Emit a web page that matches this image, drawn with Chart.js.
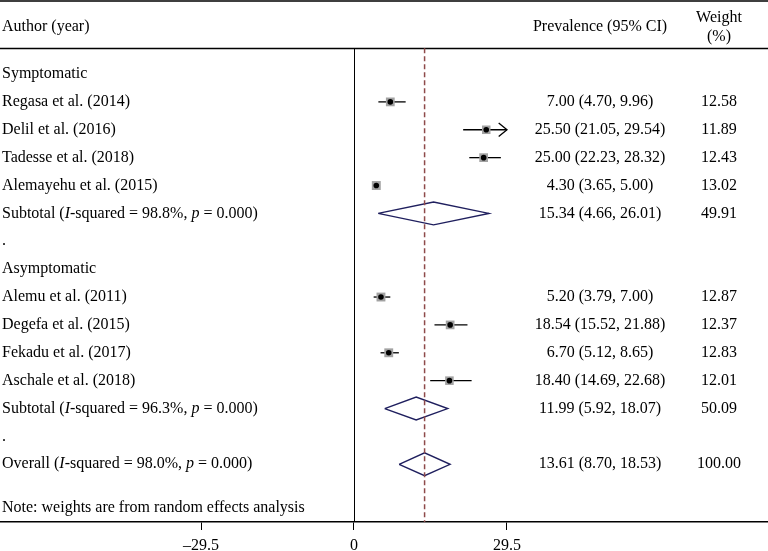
<!DOCTYPE html>
<html>
<head>
<meta charset="utf-8">
<script src="https://cdn.jsdelivr.net/npm/chart.js@4"></script>
<style>html,body{margin:0;padding:0;background:#fff}</style>
</head>
<body>
<canvas id="forest" width="768" height="551"></canvas>
<script>
// rows of the forest plot, top to bottom
const rowLabels = [
  'Symptomatic',
  'Regasa et al. (2014)',
  'Delil et al. (2016)',
  'Tadesse et al. (2018)',
  'Alemayehu et al. (2015)',
  'Subtotal (*I*-squared = 98.8%, *p* = 0.000)',
  '.',
  'Asymptomatic',
  'Alemu et al. (2011)',
  'Degefa et al. (2015)',
  'Fekadu et al. (2017)',
  'Aschale et al. (2018)',
  'Subtotal (*I*-squared = 96.3%, *p* = 0.000)',
  '.',
  'Overall (*I*-squared = 98.0%, *p* = 0.000)'
];
const rowKinds = ['group', 'study', 'study', 'study', 'study', 'pooled', 'gap',
  'group', 'study', 'study', 'study', 'study', 'pooled', 'gap', 'pooled'];
const estimates = [null, 7.00, 25.50, 25.00, 4.30, 15.34, null, null, 5.20, 18.54, 6.70, 18.40, 11.99, null, 13.61];
const lower = [null, 4.70, 21.05, 22.23, 3.65, 4.66, null, null, 3.79, 15.52, 5.12, 14.69, 5.92, null, 8.70];
const upper = [null, 9.96, 29.54, 28.32, 5.00, 26.01, null, null, 7.00, 21.88, 8.65, 22.68, 18.07, null, 18.53];
const weights = [null, 12.58, 11.89, 12.43, 13.02, 49.91, null, null, 12.87, 12.37, 12.83, 12.01, 50.09, null, 100.00];
const tickValues = [-29.5, 0, 29.5];
const axisMax = 29.5;
const overallEstimate = 13.61;
const noteText = 'Note: weights are from random effects analysis';

const FONT = '"Liberation Serif", "Times New Roman", serif';
const headerRow = -1.69;    // y value of the column headings
const headerRule = -0.92;   // rule under the headings
const noteRow = 15.56;
const yMin = -2.655, yMax = 16.07;

// build datasets
const datasets = [];
rowKinds.forEach((kind, i) => {
  if (kind === 'study') {
    const hi = Math.min(upper[i], axisMax);
    datasets.push({
      data: [{x: lower[i], y: i}, {x: hi, y: i}],
      showLine: true, borderColor: '#000', borderWidth: 1.3, pointRadius: 0, order: 3
    });
    if (upper[i] > axisMax) {
      datasets.push({
        data: [{x: axisMax - 1.6, y: i - 0.24}, {x: axisMax, y: i}, {x: axisMax - 1.6, y: i + 0.24}],
        showLine: true, borderColor: '#000', borderWidth: 1.3, pointRadius: 0, order: 3
      });
    }
  } else if (kind === 'pooled') {
    datasets.push({
      data: [
        {x: lower[i], y: i}, {x: estimates[i], y: i - 0.41}, {x: upper[i], y: i},
        {x: estimates[i], y: i + 0.41}, {x: lower[i], y: i}
      ],
      showLine: true, borderColor: '#1f1f5e', borderWidth: 1.4, pointRadius: 0, order: 4
    });
  }
});
const studyRows = rowKinds.map((k, i) => k === 'study' ? i : -1).filter(i => i >= 0);
datasets.push({
  data: studyRows.map(i => ({x: estimates[i], y: i})),
  pointStyle: 'rect',
  pointRadius: studyRows.map(i => Math.sqrt(weights[i]) * 1.75),
  backgroundColor: '#a2a2a2', borderWidth: 0, order: 1
});
datasets.push({
  data: studyRows.map(i => ({x: estimates[i], y: i})),
  pointStyle: 'circle', pointRadius: 2.8,
  backgroundColor: '#000', borderWidth: 0, order: 0
});
datasets.push({
  data: [{x: overallEstimate, y: headerRule}, {x: overallEstimate, y: yMax}],
  showLine: true, borderColor: '#8e4a4a', borderWidth: 1.5, borderDash: [5, 3],
  pointRadius: 0, order: 2
});

function drawRich(ctx, text, x, y) {
  text.split('*').forEach((part, k) => {
    ctx.font = (k % 2 ? 'italic ' : '') + '16px ' + FONT;
    ctx.fillText(part, x, y);
    x += ctx.measureText(part).width;
  });
}

const tablePlugin = {
  id: 'table',
  beforeDatasetsDraw(chart) {
    const {ctx, scales: {x, y}} = chart;
    ctx.save();
    ctx.strokeStyle = '#000';
    ctx.lineWidth = 1.5;
    ctx.beginPath();
    ctx.moveTo(0, 1); ctx.lineTo(768, 1);
    const ry = Math.round(y.getPixelForValue(headerRule)) + 0.5;
    ctx.moveTo(0, ry); ctx.lineTo(768, ry);
    ctx.stroke();
    ctx.lineWidth = 1;
    const x0 = Math.round(x.getPixelForValue(0)) + 0.5;
    ctx.beginPath();
    ctx.moveTo(x0, ry); ctx.lineTo(x0, chart.chartArea.bottom);
    ctx.stroke();
    ctx.restore();
  },
  afterDraw(chart) {
    const {ctx, scales: {y}} = chart;
    ctx.save();
    ctx.fillStyle = '#000';
    ctx.textBaseline = 'middle';
    ctx.font = '16px ' + FONT;
    const hy = y.getPixelForValue(headerRow);
    ctx.textAlign = 'left';
    ctx.fillText('Author (year)', 2, hy);
    ctx.textAlign = 'center';
    ctx.fillText('Prevalence (95% CI)', 600, hy);
    ctx.fillText('Weight', 719, hy - 9);
    ctx.fillText('(%)', 719, hy + 10);
    rowLabels.forEach((label, i) => {
      const py = y.getPixelForValue(i);
      ctx.textAlign = 'left';
      drawRich(ctx, label, 2, py);
      if (estimates[i] != null) {
        ctx.font = '16px ' + FONT;
        ctx.textAlign = 'center';
        ctx.fillText(estimates[i].toFixed(2) + ' (' + lower[i].toFixed(2) + ', ' + upper[i].toFixed(2) + ')', 600, py);
        ctx.fillText(weights[i].toFixed(2), 719, py);
      }
    });
    ctx.font = '16px ' + FONT;
    ctx.textAlign = 'left';
    ctx.fillText(noteText, 2, y.getPixelForValue(noteRow));
    ctx.restore();
  }
};

new Chart(document.getElementById('forest'), {
  type: 'scatter',
  data: {datasets},
  options: {
    responsive: false,
    animation: false,
    events: [],
    layout: {padding: 0, autoPadding: false},
    plugins: {legend: {display: false}, tooltip: {enabled: false}},
    scales: {
      x: {
        type: 'linear', position: 'bottom',
        min: -68.26, max: 79.83,
        afterBuildTicks: s => { s.ticks = tickValues.map(v => ({value: v})); },
        afterFit: s => { s.height = 29; },
        grid: {drawOnChartArea: false, drawTicks: true, tickLength: 8, color: '#000', lineWidth: 1},
        border: {display: true, color: '#000', width: 1.5},
        ticks: {
          padding: 6, color: '#000', maxRotation: 0, autoSkip: false,
          font: {family: FONT, size: 16},
          callback: v => v < 0 ? '\u2013' + Math.abs(v) : String(v)
        }
      },
      y: {type: 'linear', reverse: true, min: yMin, max: yMax, display: false}
    }
  },
  plugins: [tablePlugin]
});
</script>
</body>
</html>
